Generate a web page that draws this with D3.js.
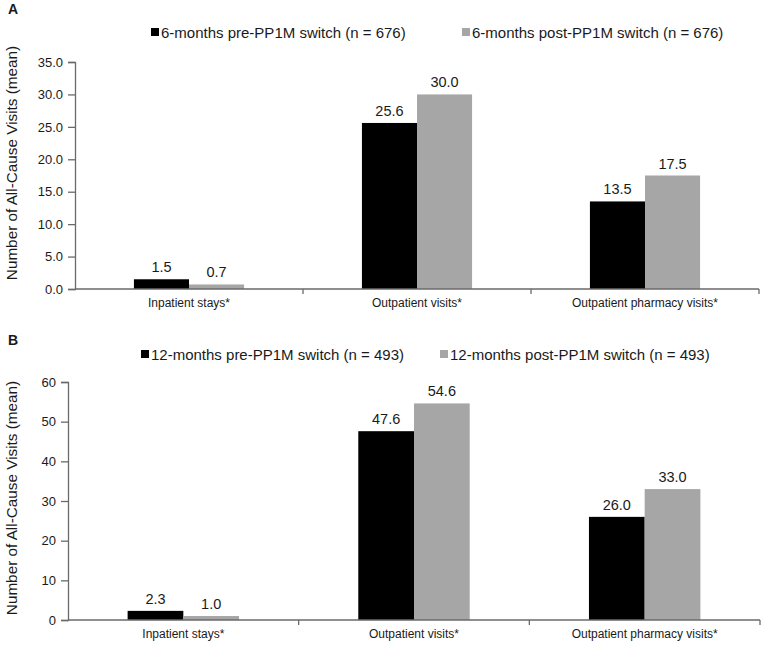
<!DOCTYPE html>
<html><head><meta charset="utf-8">
<script src="https://cdn.jsdelivr.net/npm/d3@7/dist/d3.min.js"></script>
<style>body{margin:0;background:#fff}svg{display:block;font-family:"Liberation Sans",Arial,sans-serif}</style>
</head><body><svg id="c" width="762" height="645"></svg>
<script>
const categories = ["Inpatient stays*", "Outpatient visits*", "Outpatient pharmacy visits*"];
const seriesA = ["6-months pre-PP1M switch (n = 676)", "6-months post-PP1M switch (n = 676)"];
const preA = [1.5, 25.6, 13.5];
const postA = [0.7, 30.0, 17.5];
const ticksA = [0, 5, 10, 15, 20, 25, 30, 35];
const seriesB = ["12-months pre-PP1M switch (n = 493)", "12-months post-PP1M switch (n = 493)"];
const preB = [2.3, 47.6, 26.0];
const postB = [1.0, 54.6, 33.0];
const ticksB = [0, 10, 20, 30, 40, 50, 60];
const colors = ["#000000", "#a6a6a6"];

const svg = d3.select("#c");
const axisColor = "#6a6a6a";
const textColor = "#1a1a1a";

function panel(opt) {
  const g = svg.append("g");
  g.append("text").attr("x", opt.letterX).attr("y", opt.letterY).attr("font-weight", "bold")
    .attr("font-size", 14).attr("fill", textColor).text(opt.letter);
  // legend
  opt.series.forEach((s, i) => {
    const lx = opt.legendX[i];
    g.append("rect").attr("x", lx).attr("y", opt.legendY - 10).attr("width", 8).attr("height", 8)
      .attr("fill", colors[i]);
    g.append("text").attr("x", lx + 10).attr("y", opt.legendY).attr("font-size", 15)
      .attr("fill", textColor).text(s);
  });
  const y = d3.scaleLinear().domain([0, opt.max]).range([opt.y0, opt.yTop]);
  const x0 = d3.scaleBand().domain(categories).range([opt.xLeft, opt.xRight]).padding(0);
  const x1 = d3.scaleBand().domain([0, 1]).range([0, x0.bandwidth()]).paddingInner(0).paddingOuter(1.07);
  const data = categories.map((c, i) => ({c, v: [opt.pre[i], opt.post[i]]}));
  // bars
  const grp = g.selectAll("g.cat").data(data).join("g").attr("transform", d => `translate(${x0(d.c)},0)`);
  grp.selectAll("rect").data(d => d.v.map((v, k) => ({v, k}))).join("rect")
    .attr("x", d => x1(d.k)).attr("width", x1.bandwidth())
    .attr("y", d => y(d.v)).attr("height", d => opt.y0 - y(d.v))
    .attr("fill", d => colors[d.k]);
  grp.selectAll("text.val").data(d => d.v.map((v, k) => ({v, k}))).join("text").attr("class", "val")
    .attr("x", d => x1(d.k) + x1.bandwidth() / 2).attr("y", d => y(d.v) - 7)
    .attr("text-anchor", "middle").attr("font-size", 14.5).attr("fill", textColor)
    .text(d => d.v.toFixed(1));
  // y axis
  const ya = g.append("g").attr("transform", `translate(${opt.xLeft},0)`)
    .call(d3.axisLeft(y).tickValues(opt.ticks).tickSize(7).tickPadding(5).tickFormat(opt.fmt));
  ya.select(".domain").attr("stroke", axisColor).attr("stroke-width", 1.3);
  ya.selectAll(".tick line").attr("stroke", axisColor).attr("stroke-width", 1.3);
  ya.selectAll(".tick text").attr("font-size", 13).attr("fill", textColor).attr("font-family", "Liberation Sans, Arial, sans-serif");
  // x axis
  const xa = g.append("g").attr("transform", `translate(0,${opt.y0})`);
  xa.append("line").attr("x1", opt.xLeft).attr("x2", opt.xRight).attr("y1", 0).attr("y2", 0)
    .attr("stroke", axisColor).attr("stroke-width", 1.3);
  categories.forEach(c => {
    const bx = x0(c) + x0.bandwidth();
    xa.append("line").attr("x1", bx).attr("x2", bx).attr("y1", 0).attr("y2", 5)
      .attr("stroke", axisColor).attr("stroke-width", 1.3);
    xa.append("text").attr("x", x0(c) + x0.bandwidth() / 2).attr("y", 18)
      .attr("text-anchor", "middle").attr("font-size", 12).attr("fill", textColor).text(c);
  });
  // y label
  g.append("text").attr("transform", `translate(${opt.labelX},${opt.labelY}) rotate(-90)`)
    .attr("text-anchor", "middle").attr("font-size", 15.3).attr("fill", textColor)
    .text("Number of All-Cause Visits (mean)");
}

panel({letter: "A", letterX: 8, letterY: 14, series: seriesA, legendX: [151, 462], legendY: 38,
  pre: preA, post: postA, max: 35, ticks: ticksA, fmt: d3.format(".1f"),
  y0: 289, yTop: 62, xLeft: 75, xRight: 759, labelX: 17, labelY: 163});
panel({letter: "B", letterX: 8, letterY: 345, series: seriesB, legendX: [141, 440], legendY: 360,
  pre: preB, post: postB, max: 60, ticks: ticksB, fmt: d3.format("d"),
  y0: 620, yTop: 382, xLeft: 68, xRight: 760, labelX: 17, labelY: 498});
</script></body></html>
